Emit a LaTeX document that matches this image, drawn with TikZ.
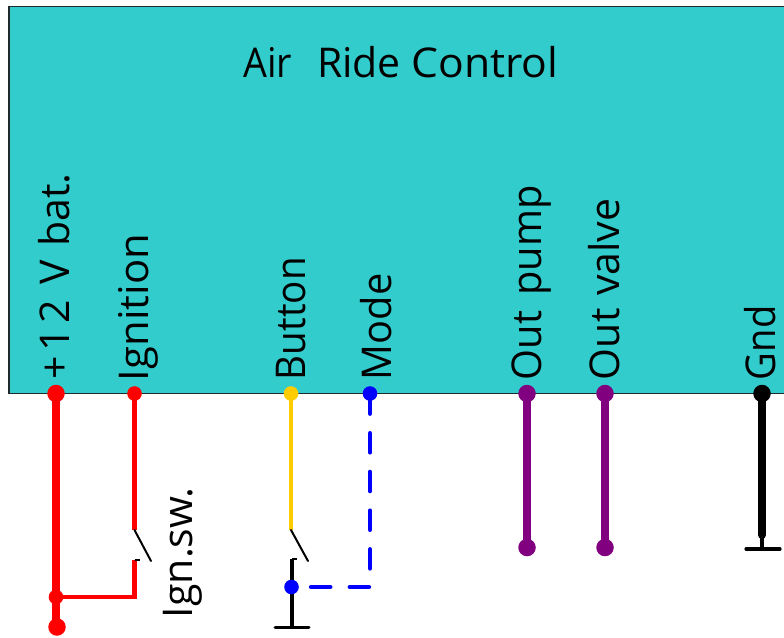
\documentclass[tikz,border=0pt]{standalone}
\usepackage{fontspec}
\setmainfont{Open Sans}
\definecolor{boxfill}{HTML}{33CCCC}
\definecolor{boxedge}{HTML}{1F2A2A}
\definecolor{wirered}{HTML}{FF0000}
\definecolor{wireyellow}{HTML}{FFCC00}
\definecolor{wireblue}{HTML}{0000FF}
\definecolor{wirepurple}{HTML}{800080}
\tikzset{
  x=1pt,y=-1pt,
  dot/.style={circle,fill=#1,draw=none,inner sep=0pt},
  dotbig/.style={dot=#1,minimum size=17.5pt},
  dotmid/.style={dot=#1,minimum size=14.6pt},
  wirethick/.style={draw=#1,line width=8pt},
  wirethin/.style={draw=#1,line width=4.6pt},
  swarm/.style={draw=black,line width=2pt},
  lbl/.style={inner sep=0pt,outer sep=0pt,font=\fontsize{41}{41}\selectfont,text=black},
  vlbl/.style={lbl,rotate=90,anchor=base west},
}
\begin{document}
\begin{tikzpicture}
\useasboundingbox (0,0) rectangle (784,637);
\fill[white] (0,0) rectangle (784,637);
\draw[fill=boxfill,draw=boxedge,line width=1.5pt] (9,6.5) rectangle (800,393.5);
\node[lbl,anchor=base] (title) at (401,77) {\scalebox{.92}[1]{Air}\hspace{14pt} Ride \scalebox{1.04}[1]{Control}};

% connectors' free ends
\coordinate (batbase) at (56,627);
\coordinate (ignA) at (134.5,530);
\coordinate (ignB) at (134.5,560);
\coordinate (ignC) at (134.5,597);
\coordinate (ignT) at (151,561);
\coordinate (btnA) at (291,530);
\coordinate (btnB) at (292,559);
\coordinate (btnT) at (308,561);
\coordinate (btnG) at (292,627);
\coordinate (btnL) at (275,627);
\coordinate (btnR) at (309,627);
\coordinate (modeC) at (370,587);
\coordinate (gndA) at (762,535);
\coordinate (gndB) at (762,549);
\coordinate (gndL) at (746,549);
\coordinate (gndR) at (780,549);
\coordinate (batJ) at (56,597);
\coordinate (btnJ) at (291.5,587);
\coordinate (batP) at (56,393.5);
\coordinate (ignP) at (134.5,393.5);
\coordinate (btnP) at (291,393.5);
\coordinate (modeP) at (370,393.5);
\coordinate (pumpP) at (527,393.5);
\coordinate (valveP) at (605,393.5);
\coordinate (gndP) at (762,393.5);
\coordinate (pumpE) at (527,547.5);
\coordinate (valveE) at (605,547.5);

% wires
\draw[wirethick=wirered] (batP) -- (batbase);
\draw[wirethin=wirered] (ignP) -- (ignA);
\draw[wirethin=wirered] (ignB) -- (ignC) -- (batJ);
\draw[swarm,line cap=round] (ignA) -- (ignT);
\draw[swarm] (ignB) -- +(5,0);
\draw[wirethin=wireyellow] (btnP) -- (btnA);
\draw[swarm,line cap=round] (btnA) -- (btnT);
\draw[draw=black,line width=3.5pt] (btnB) -- (btnG);
\draw[swarm] (btnB) -- +(5,0);
\draw[draw=black,line width=3pt,line cap=round] (btnL) -- (btnR);
\draw[wirethin=wireblue,line cap=round,dash pattern=on 19pt off 19.7pt,dash phase=19pt] (btnJ) -- (modeC) -- (modeP);
\draw[wirethick=wirepurple] (pumpP) -- (pumpE);
\draw[wirethick=wirepurple] (valveP) -- (valveE);
\draw[wirethick=black,line cap=round] (gndP) -- (gndA);
\draw[draw=black,line width=4pt] (gndA) -- (gndB);
\draw[draw=black,line width=3.2pt,line cap=round] (gndL) -- (gndR);

% terminal dots
\node[dotbig=wirered] (bat) at (batP) {};
\node[dotmid=wirered] (ign) at (ignP) {};
\node[dotmid=wireyellow] (btn) at (btnP) {};
\node[dotmid=wireblue] (mode) at (modeP) {};
\node[dotbig=wirepurple] (pump) at (pumpP) {};
\node[dotbig=wirepurple] (valve) at (valveP) {};
\node[dotbig=black] (gnd) at (gndP) {};
\node[dotbig=wirepurple] (pumpend) at (pumpE) {};
\node[dotbig=wirepurple] (valveend) at (valveE) {};
\node[dotbig=wirered] (batend) at (57,627) {};
\node[dotmid=wirered] (batj) at (batJ) {};
\node[dotmid=wireblue] (btnj) at (btnJ) {};

% labels
\node[vlbl] (l1) at (69,379.5) {+\hspace{5pt}1\hspace{4pt}2\hspace{5pt} V\hspace{3pt} bat.};
\node[vlbl] (l2) at (148,381) {\scalebox{1.02}[1]{Ignition}};
\node[vlbl] (l3) at (305.5,380) {\scalebox{.94}[1]{Button}};
\node[vlbl] (l4) at (391,380) {\scalebox{.97}[1]{Mode}};
\node[vlbl] (l5) at (541,380) {\scalebox{.97}[1]{Out\hspace{5pt} pump}};
\node[vlbl] (l6) at (619,380) {Out\hspace{2pt} valve};
\node[vlbl] (l7) at (775,380) {\scalebox{.93}[1]{Gnd}};
\node[vlbl] (l8) at (192,618) {Ign.sw.};
\end{tikzpicture}
\end{document}
